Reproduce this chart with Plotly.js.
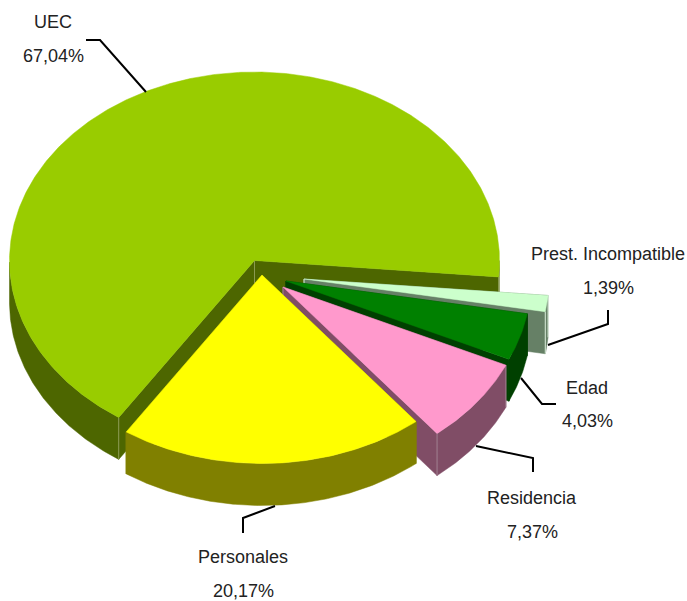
<!DOCTYPE html>
<html><head><meta charset="utf-8">
<script src="https://cdn.plot.ly/plotly-3.0.1.min.js"></script>
<style>html,body{margin:0;padding:0;background:#fff}#c{width:687px;height:601px}</style>
</head><body><div id="c"></div>
<script>
// Data, in clockwise order from the start angle
const categories = ["Prest. Incompatible","Edad","Residencia","Personales","UEC"];
const values = [1.39,4.03,7.37,20.17,67.04];
const valueLabels = ["1,39%","4,03%","7,37%","20,17%","67,04%"];

// Styling
const topColors = ["#CCFFCC","#008000","#FF99CC","#FFFF00","#99CC00"];
const sideColors = ["#668066","#004000","#804D66","#808000","#4D6600"];
const rimColors = ["#DDEEDD","#004000","#A08090","#808000","#8A9A50"];

// Projection of the tilted pie
const startAngle = 5, rx = 245, ry = 188.5, depth = 42;
const hubX = [304,286,283,262,254.5];
const hubY = [279,281,287,275,260.5];
const drawOrder = [4,0,1,2,3];

const total = values.reduce((a,b)=>a+b,0);
let acc = startAngle;
const spans = values.map(v=>{const a=acc; acc+=v/total*360; return [a,acc];});
const rad = d=>d*Math.PI/180;

function arc(i,dz){
  const xs=[],ys=[],[a,b]=spans[i],n=Math.ceil(b-a)*2;
  for(let k=0;k<=n;k++){const t=rad(a+(b-a)*k/n);
    xs.push(hubX[i]+rx*Math.cos(t)); ys.push(hubY[i]+ry*Math.sin(t)+dz);}
  return [xs,ys];
}
const poly=(xs,ys,c,name,w)=>({type:'scatter',mode:'lines',x:xs,y:ys,fill:'toself',fillcolor:c,
  line:{color:c,width:w===undefined?0.5:w},hoverinfo:'skip',showlegend:false,name});
const traces=[];
drawOrder.forEach(i=>{
  const [ax,ay]=arc(i,0),hx=hubX[i],hy=hubY[i],L=ax.length-1,c=sideColors[i];
  // cut faces
  traces.push(poly([hx,ax[0],ax[0],hx,hx],[hy,ay[0],ay[0]+depth,hy+depth,hy],c,categories[i]+' cut A'));
  traces.push(poly([hx,ax[L],ax[L],hx,hx],[hy,ay[L],ay[L]+depth,hy+depth,hy],c,categories[i]+' cut B'));
  // rim: only the stretches of arc that face the viewer
  let run=[];
  const flush=()=>{ if(run.length>1){
      const xs=run.map(k=>ax[k]),ys=run.map(k=>ay[k]);
      traces.push(poly(xs.concat(xs.slice().reverse()),ys.concat(ys.map(v=>v+depth).reverse()),c,categories[i]+' rim'));
    } run=[]; };
  ax.forEach((_,k)=>{ if(ay[k]>=hy) run.push(k); else flush(); });
  flush();
  // light corner lines
  [[hx,hy],[ax[L],ay[L]],[ax[0],ay[0]]].forEach(p=>{
    traces.push({type:'scatter',mode:'lines',x:[p[0],p[0]],y:[p[1],p[1]+depth],
      line:{color:rimColors[i],width:1},hoverinfo:'skip',showlegend:false});
  });
  // top
  traces.push(poly([hx].concat(ax,[hx]),[hy].concat(ay,[hy]),topColors[i],categories[i]));
});

const font={family:'"Liberation Sans",Arial,sans-serif',size:18,color:'#222'};
const labelPos={ "UEC":[53,22,56],"Personales":[243,557,591],"Residencia":[532,498,532],"Edad":[587,388,421],"Prest. Incompatible":[608,254,288] };
const annotations=[];
categories.forEach((c,i)=>{const p=labelPos[c];
  [[c,p[1]],[valueLabels[i],p[2]]].forEach(([t,y])=>annotations.push({xref:'x',yref:'y',x:p[0],y,text:t,showarrow:false,
    xanchor:'center',yanchor:'middle',font}));
});
const leader=d=>({type:'path',path:d,line:{color:'#000',width:2},layer:'above'});
const shapes=[
 leader('M86,40 L100,40 L146,92'),
 leader('M243,533 L243,518 L275,506'),
 leader('M533,472 L533,458 L476,446'),
 leader('M556,404 L542,404 L521,378'),
 leader('M608,310 L608,324 L548,345')
];
Plotly.newPlot('c',traces,{
  width:687,height:601,margin:{l:0,r:0,t:0,b:0},paper_bgcolor:'#fff',plot_bgcolor:'#fff',showlegend:false,
  xaxis:{range:[0,687],visible:false,fixedrange:true},
  yaxis:{range:[601,0],visible:false,fixedrange:true},
  annotations,shapes
},{displayModeBar:false,staticPlot:true});
</script></body></html>
